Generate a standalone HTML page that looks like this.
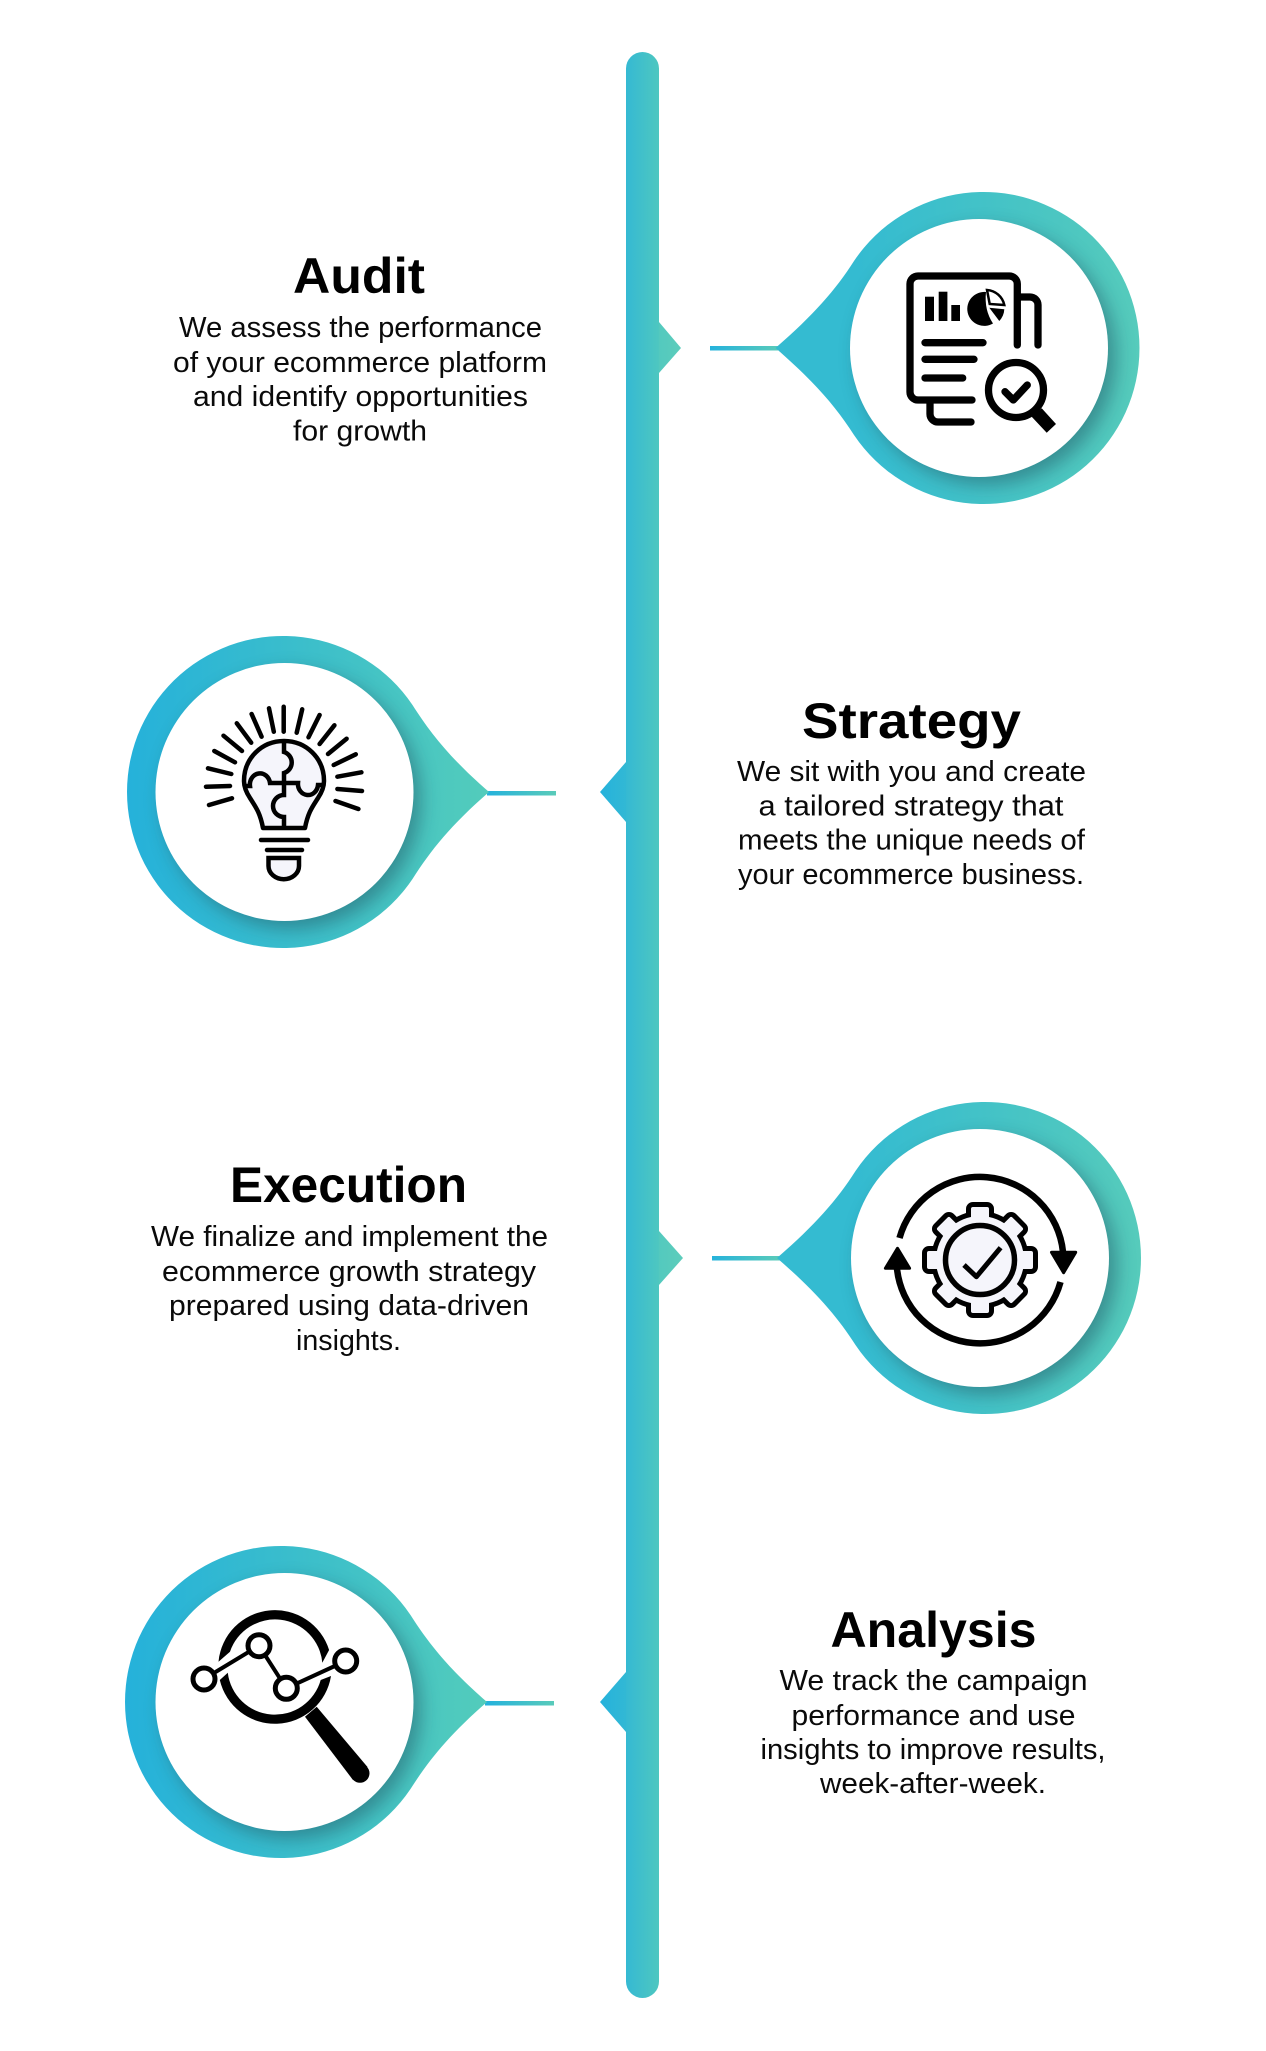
<!DOCTYPE html>
<html><head><meta charset="utf-8"><style>
html,body{margin:0;padding:0;background:#fff}
svg{display:block}
text{font-family:"Liberation Sans",sans-serif;fill:#0a0a0a}
.t{font-size:50px;font-weight:bold;fill:#000}
.b{font-size:29px}
</style></head><body>
<svg width="1266" height="2051" viewBox="0 0 1266 2051" xmlns="http://www.w3.org/2000/svg">
<defs>
<linearGradient id="bar" gradientUnits="userSpaceOnUse" x1="626" x2="659" y1="0" y2="0"><stop offset="0" stop-color="#35b9d3"/><stop offset="1" stop-color="#4ec7c0"/></linearGradient>
<linearGradient id="nr" gradientUnits="userSpaceOnUse" x1="645" x2="684" y1="0" y2="0"><stop offset="0" stop-color="#4ec7c0"/><stop offset="1" stop-color="#5dcdbb"/></linearGradient>
<linearGradient id="nl" gradientUnits="userSpaceOnUse" x1="600" x2="635" y1="0" y2="0"><stop offset="0" stop-color="#25b2dc"/><stop offset="1" stop-color="#36bad2"/></linearGradient>
<linearGradient id="pr" gradientUnits="userSpaceOnUse" x1="860" x2="1144" y1="0" y2="0"><stop offset="0" stop-color="#34bbd1"/><stop offset="1" stop-color="#56cbbb"/></linearGradient>
<linearGradient id="pl" gradientUnits="userSpaceOnUse" x1="126" x2="489" y1="0" y2="0"><stop offset="0" stop-color="#25b1da"/><stop offset="1" stop-color="#53ccbb"/></linearGradient>
<linearGradient id="l1" gradientUnits="userSpaceOnUse" x1="710" x2="780" y1="0" y2="0"><stop offset="0" stop-color="#25b2dc"/><stop offset="1" stop-color="#5acbb9"/></linearGradient>
<linearGradient id="l2" gradientUnits="userSpaceOnUse" x1="487" x2="556" y1="0" y2="0"><stop offset="0" stop-color="#25b2dc"/><stop offset="1" stop-color="#5acbb9"/></linearGradient>
<filter id="bl" x="-30%" y="-30%" width="160%" height="160%"><feGaussianBlur stdDeviation="9"/></filter>
<clipPath id="c1"><path d="M778 348C816 315 838 290 856.5 261A156 156 0 1 1 856.5 435C838 406 816 381 778 348Z"/></clipPath>
<clipPath id="c2"><path d="M489 792C451 759 431 734 412.5 705A156 156 0 1 0 412.5 879C431 850 451 825 489 792Z"/></clipPath>
<clipPath id="c3"><path d="M780 1258C818 1225 840 1200 858.5 1171A156 156 0 1 1 858.5 1345C840 1316 818 1291 780 1258Z"/></clipPath>
<clipPath id="c4"><path d="M487 1702C449 1669 429 1644 410.5 1615A156 156 0 1 0 410.5 1789C429 1760 449 1735 487 1702Z"/></clipPath>
<g id="gs">
<circle cx="980" cy="1260" r="44"/>
<rect x="971" y="1207" width="18" height="20" rx="2"/>
<rect x="971" y="1207" width="18" height="20" rx="2" transform="rotate(45 980 1260)"/>
<rect x="971" y="1207" width="18" height="20" rx="2" transform="rotate(90 980 1260)"/>
<rect x="971" y="1207" width="18" height="20" rx="2" transform="rotate(135 980 1260)"/>
<rect x="971" y="1207" width="18" height="20" rx="2" transform="rotate(180 980 1260)"/>
<rect x="971" y="1207" width="18" height="20" rx="2" transform="rotate(225 980 1260)"/>
<rect x="971" y="1207" width="18" height="20" rx="2" transform="rotate(270 980 1260)"/>
<rect x="971" y="1207" width="18" height="20" rx="2" transform="rotate(315 980 1260)"/>
</g>
</defs>

<!-- central bar -->
<polygon points="659,322 681,348 659,373" fill="url(#nr)"/>
<polygon points="659,1231 683,1258 659,1285" fill="url(#nr)"/>
<polygon points="626,762 600,792 626,822" fill="url(#nl)"/>
<polygon points="626,1672 600,1702 626,1732" fill="url(#nl)"/>
<rect x="626" y="52" width="33" height="1946" rx="16.5" fill="url(#bar)"/>

<!-- connector stubs -->
<rect x="710" y="346" width="68" height="4.5" fill="url(#l1)"/>
<rect x="712" y="1256" width="68" height="4.5" fill="url(#l1)"/>
<rect x="487" y="791" width="69" height="4.5" fill="url(#l2)"/>
<rect x="485" y="1701" width="69" height="4.5" fill="url(#l2)"/>

<!-- pins -->
<g transform="translate(-2.5 0)">
<path d="M778 348C816 315 838 290 856.5 261A156 156 0 1 1 856.5 435C838 406 816 381 778 348Z" fill="url(#pr)"/>
<g clip-path="url(#c1)"><circle cx="989.500" cy="356" r="129" fill="#26616a" opacity=".55" filter="url(#bl)"/></g>
</g>
<circle cx="979" cy="348" r="129" fill="#fff"/>

<path d="M489 792C451 759 431 734 412.5 705A156 156 0 1 0 412.5 879C431 850 451 825 489 792Z" fill="url(#pl)"/>
<g clip-path="url(#c2)"><circle cx="292" cy="800" r="129" fill="#26616a" opacity=".55" filter="url(#bl)"/></g>
<circle cx="284.5" cy="792" r="129" fill="#fff"/>

<g transform="translate(-3 0)">
<path d="M780 1258C818 1225 840 1200 858.5 1171A156 156 0 1 1 858.5 1345C840 1316 818 1291 780 1258Z" fill="url(#pr)"/>
<g clip-path="url(#c3)"><circle cx="991" cy="1266" r="129" fill="#26616a" opacity=".55" filter="url(#bl)"/></g>
</g>
<circle cx="980" cy="1258" r="129" fill="#fff"/>

<path d="M487 1702C449 1669 429 1644 410.5 1615A156 156 0 1 0 410.5 1789C429 1760 449 1735 487 1702Z" fill="url(#pl)"/>
<g clip-path="url(#c4)"><circle cx="292" cy="1710" r="129" fill="#26616a" opacity=".55" filter="url(#bl)"/></g>
<circle cx="284.5" cy="1702" r="129" fill="#fff"/>

<!-- icon 1: report -->
<g fill="none" stroke="#000" stroke-width="7.300" stroke-linecap="round" stroke-linejoin="round">
<path d="M1017.3 345V284a8 8 0 0 0-8-8H918a8 8 0 0 0-8 8V392a8 8 0 0 0 8 8H972"/>
<path d="M1020 297H1030a8 8 0 0 1 8 8V345"/>
<path d="M930 402V414a8 8 0 0 0 8 8H971"/>
<path d="M925 342.7H983M925 359.3H974M925 378H962.7"/>
<circle cx="1016" cy="390" r="27.5"/>
<path d="M1005 391.7L1013.3 400L1027.3 385"/>
</g>
<rect x="925" y="296.7" width="9" height="24.3"/><rect x="938.7" y="291.7" width="8.7" height="29.3"/><rect x="951.3" y="305" width="8.7" height="16"/>
<path d="M986 292A17 17 0 1 0 993 323.500Q984 310 986 292Z"/>
<path d="M987 290A19 19 0 0 1 1004.300 305L989.700 304Z" fill="#fff" stroke="#000" stroke-width="2.5"/>
<path d="M989.300 307.700L1004.300 309.300Q1004 316 999.300 321Z"/>
<polygon points="1041.7,408.3 1056,424 1046.7,432.7 1031.7,416.7"/>

<!-- icon 2: bulb -->
<g stroke="#000" stroke-width="4.5" stroke-linecap="round" fill="none">
<path d="M283.7 731.7V706.7M273.8 731.7L269 708.3M261.6 736.7L251.6 714M251.2 742.7L236.8 723.3M242 751L223.5 735.7M235 762.3L214.3 751M231.3 774L208 768.3M230 786L206 786.7M232 798.3L209 805M296.7 732.7L302.2 709.3M308.5 737.3L319.6 715M319.6 744L334.4 725.3M328 754L346.6 738.7M333.7 765L355.8 754.3M337.4 776.7L361.4 772.3M337.4 789L362 791M335.5 801L358.4 809"/>
<path d="M263 828C260 812 255 806 250 798C246 792 244 787 244 781C244 758 262 741 284 741C306 741 324 758 324 781C324 787 322 792 318 798C313 806 308 812 305 828Z" fill="#f5f5fb" stroke-linejoin="round"/>
<path d="M284 741V752A11 11 0 0 1 284 773V795A11 11 0 0 0 284 817V828" stroke-linecap="butt"/>
<path d="M246 786H250A10 11 0 0 1 270 783H298A10 11 0 0 0 318 785H323" stroke-linecap="butt"/>
<path d="M261 840H308M267 850H302"/>
<path d="M268.500 858H299V866a15 13 0 0 1-30.500 0Z" fill="#f5f5fb"/>
</g>

<!-- icon 3: gear -->
<g fill="none" stroke="#000" stroke-width="6.500">
<path d="M899.500 1238A83.500 83.500 0 0 1 1063 1252"/>
<path d="M1060.500 1282A83.500 83.500 0 0 1 896.900 1268"/>
</g>
<polygon points="1051.500,1252.300 1075.700,1252.300 1063.600,1272.700" stroke="#000" stroke-width="3" stroke-linejoin="round"/>
<polygon points="885.400,1268.300 909.600,1268.300 897.500,1248.300" stroke="#000" stroke-width="3" stroke-linejoin="round"/>
<use href="#gs" fill="#000" stroke="#000" stroke-width="10" stroke-linejoin="round"/>
<use href="#gs" fill="#f5f5fb"/>
<circle cx="980" cy="1260" r="34.500" fill="#f5f5fb" stroke="#000" stroke-width="5.500"/>
<path d="M964 1265L976.400 1276.700L1000.600 1247.700" fill="none" stroke="#000" stroke-width="5" stroke-linejoin="round"/>

<!-- icon 4: magnifier -->
<path d="M218.500 1661.700A56.700 56.700 0 0 1 329.100 1650L322.300 1662.700A47.500 47.500 0 0 0 230 1651.700Z"/>
<path d="M227.800 1672.700L219.800 1680A56.700 56.700 0 0 0 331 1676L320.700 1680A47.500 47.500 0 0 1 227.800 1672.700Z"/>
<polygon points="305,1716.7 316.7,1706.7 367.5,1767 353,1780"/>
<circle cx="360" cy="1773.3" r="9.500"/>
<path d="M204 1679L259 1645.7L286.3 1688.3L345.7 1661" fill="none" stroke="#000" stroke-width="4"/>
<g fill="#fff" stroke="#000" stroke-width="5"><circle cx="204" cy="1679" r="11"/><circle cx="259" cy="1645.700" r="11"/><circle cx="286.300" cy="1688.300" r="11"/><circle cx="345.700" cy="1661" r="11"/></g>

<!-- text -->
<text class="t" x="293" y="293" textLength="132" lengthAdjust="spacingAndGlyphs">Audit</text>
<text class="b" x="179" y="337" textLength="363" lengthAdjust="spacingAndGlyphs">We assess the performance</text>
<text class="b" x="173" y="372" textLength="374" lengthAdjust="spacingAndGlyphs">of your ecommerce platform</text>
<text class="b" x="193" y="406" textLength="335" lengthAdjust="spacingAndGlyphs">and identify opportunities</text>
<text class="b" x="293" y="440.500" textLength="134" lengthAdjust="spacingAndGlyphs">for growth</text>

<text class="t" x="802" y="738" textLength="219" lengthAdjust="spacingAndGlyphs">Strategy</text>
<text class="b" x="737" y="781" textLength="349" lengthAdjust="spacingAndGlyphs">We sit with you and create</text>
<text class="b" x="758.500" y="815.500" textLength="305" lengthAdjust="spacingAndGlyphs">a tailored strategy that</text>
<text class="b" x="738" y="849.500" textLength="347" lengthAdjust="spacingAndGlyphs">meets the unique needs of</text>
<text class="b" x="738" y="884" textLength="346" lengthAdjust="spacingAndGlyphs">your ecommerce business.</text>

<text class="t" x="230" y="1202" textLength="237" lengthAdjust="spacingAndGlyphs">Execution</text>
<text class="b" x="151" y="1246" textLength="397" lengthAdjust="spacingAndGlyphs">We finalize and implement the</text>
<text class="b" x="162" y="1281" textLength="374" lengthAdjust="spacingAndGlyphs">ecommerce growth strategy</text>
<text class="b" x="169" y="1315" textLength="360" lengthAdjust="spacingAndGlyphs">prepared using data-driven</text>
<text class="b" x="296" y="1350" textLength="105" lengthAdjust="spacingAndGlyphs">insights.</text>

<text class="t" x="830.500" y="1647" textLength="206" lengthAdjust="spacingAndGlyphs">Analysis</text>
<text class="b" x="779.500" y="1690" textLength="308" lengthAdjust="spacingAndGlyphs">We track the campaign</text>
<text class="b" x="791.500" y="1725" textLength="284" lengthAdjust="spacingAndGlyphs">performance and use</text>
<text class="b" x="760.500" y="1759" textLength="345" lengthAdjust="spacingAndGlyphs">insights to improve results,</text>
<text class="b" x="820" y="1793" textLength="226" lengthAdjust="spacingAndGlyphs">week-after-week.</text>
</svg>
</body></html>
